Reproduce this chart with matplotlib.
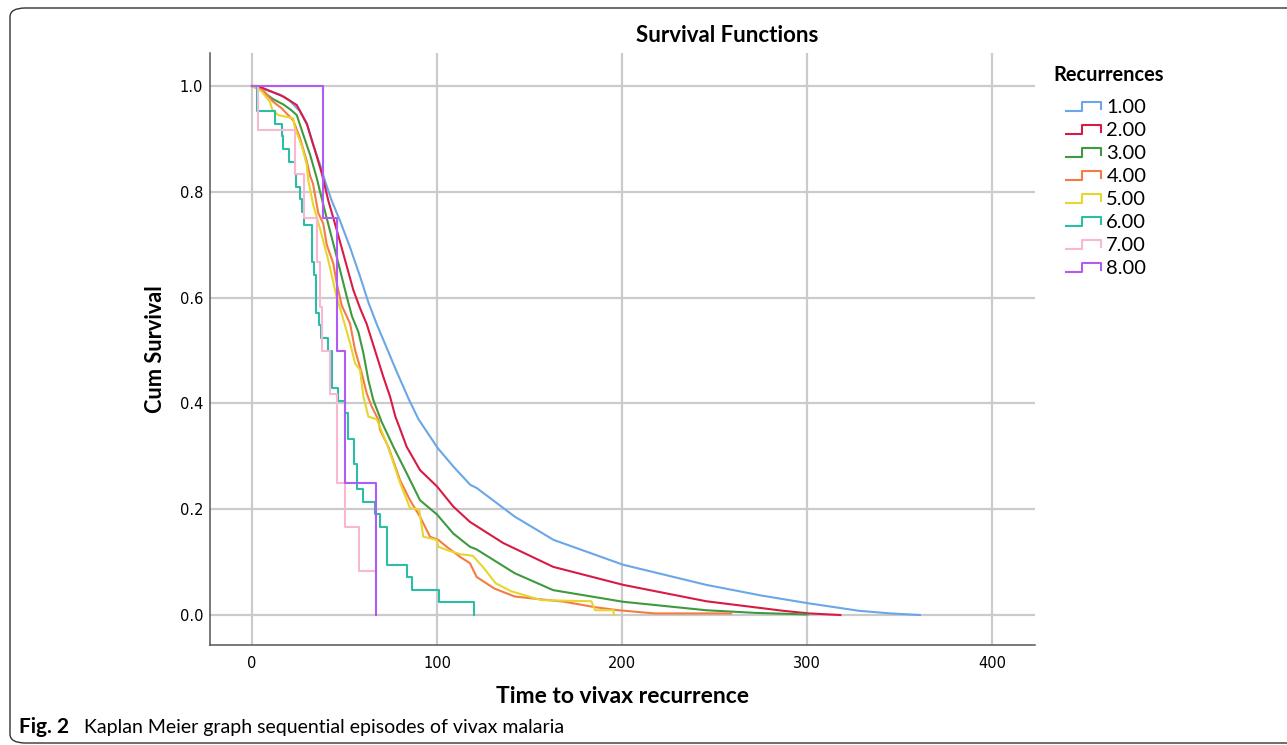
import matplotlib
matplotlib.use('Agg')
import matplotlib.pyplot as plt
from matplotlib.lines import Line2D
from matplotlib.legend_handler import HandlerBase
from matplotlib.patches import FancyBboxPatch

# ----- Kaplan-Meier curves (time in days, cumulative survival)
t1 = [0, 4, 15, 20.5, 26, 30, 33, 36.8, 39.5, 43, 47.6, 53, 58.4, 63, 67.4, 72.8, 78.2, 85, 90,
      100.5, 109, 118, 121.5, 142, 163, 200.6, 245.5, 275, 301, 328, 345, 361]
s1 = [1.0, .997, .984, .972, .952, .925, .889, .851, .82, .784, .745, .695, .64, .59, .55, .505, .46, .406, .37,
      .315, .28, .246, .24, .186, .142, .095, .057, .037, .022, .008, .003, 0.0]

t2 = [0, 6, 17, 24.2, 29.6, 34, 37.7, 41.2, 45.8, 50.3, 54.8, 58.4, 62, 66.5, 71, 74.6, 77.5, 80, 83.6,
      90.8, 100, 108.8, 117.8, 135.8, 162.8, 200.6, 245.5, 287, 301, 318]
s2 = [1.0, .996, .98, .964, .929, .879, .835, .784, .728, .671, .614, .58, .55, .50, .45, .413, .375, .352, .318,
      .274, .243, .205, .176, .136, .091, .057, .026, .008, .003, 0.0]

t3 = [0, 4.3, 11.5, 17, 21, 24.2, 27.7, 31.4, 35, 36.8, 40.4, 45.8, 51.2, 54, 57.5, 60.2, 62.9, 65.6, 70.1,
      76.4, 83.6, 90.8, 100, 108.8, 117.8, 121.4, 142, 162.8, 200.6, 245.5, 272, 300.3]
s3 = [1.0, .993, .975, .965, .955, .945, .908, .87, .826, .80, .75, .677, .602, .565, .535, .495, .444, .406, .365,
      .318, .268, .217, .19, .154, .129, .124, .079, .047, .025, .009, .004, .001]

t4 = [0, 6, 11.5, 16, 22.3, 25.9, 29.6, 31.4, 33, 35.8, 38.5, 40.4, 43.9, 45.8, 48.5, 53, 55.7, 59.3, 62,
      64.7, 68.3, 69.2, 73.7, 80, 85.4, 90.8, 96.2, 100.7, 105.2, 112.4, 117.8, 121.4, 131, 142, 155, 169,
      185, 198, 217.6, 259]
s4 = [1.0, .992, .97, .958, .935, .902, .858, .83, .815, .76, .74, .70, .665, .627, .585, .551, .501, .457, .419,
      .394, .369, .35, .318, .255, .217, .186, .148, .142, .129, .110, .098, .072, .05, .035, .03, .025,
      .015, .009, .003, .003]

t5 = [0, 5.2, 9.7, 11, 14.2, 22.3, 23.2, 26.9, 29.6, 30.4, 33.1, 36.8, 41.2, 45.8, 47.6, 49.4, 53, 55.7,
      58.4, 60.2, 62.9, 67.4, 72.8, 80, 85.4, 90.3, 92.6, 99.8, 100.7, 105.2, 112.4, 119.3, 125, 131.7,
      140, 156.5, 183.4, 185.5, 195.5, 195.5]
s5 = [1.0, .99, .97, .955, .945, .939, .921, .887, .851, .822, .775, .73, .671, .60, .58, .558, .514, .476,
      .463, .413, .375, .37, .325, .25, .202, .20, .148, .142, .129, .123, .115, .112, .09, .06,
      .045, .028, .026, .009, .009, 0.0]

t6 = [0, 2.5, 12.4, 16, 17, 20, 23, 24, 26, 27, 28, 32.3, 33.5, 34.6, 36, 37.5, 41, 43, 46.5, 50, 52,
      55, 57, 60, 66.5, 69, 73, 84, 86.5, 101, 120]
s6 = [1.0, .952, .929, .905, .881, .857, .833, .810, .786, .762, .738, .667, .643, .571, .548, .524, .500, .429,
      .405, .381, .333, .286, .238, .214, .190, .167, .095, .071, .048, .024, 0.0]

t7 = [0, 3.4, 23, 28, 35, 36.5, 37.7, 42.2, 45.8, 50.3, 58, 66.5]
s7 = [1.0, .917, .833, .75, .667, .583, .5, .417, .25, .167, .083, .083]

t8 = [0, 38.2, 45.8, 50.3, 66.8]
s8 = [1.0, .75, .5, .25, 0.0]

labels = ['1.00', '2.00', '3.00', '4.00', '5.00', '6.00', '7.00', '8.00']
colors = ['#6aa6e8', '#d81b45', '#3f9a3f', '#f47c44', '#e6d62e', '#2cbea4', '#f8b8d4', '#b05cf2']
xticks = [0, 100, 200, 300, 400]
yticks = [0.0, 0.2, 0.4, 0.6, 0.8, 1.0]

FONT = ['Lato', 'DejaVu Sans']


class StepHandler(HandlerBase):
    # little step glyph used in SPSS legends
    def create_artists(self, legend, orig_handle, xdescent, ydescent, width, height, fontsize, trans):
        xs = [0, .45, .45, 1, 1]
        ys = [.1, .1, .8, .8, .25]
        ln = Line2D([x * width - xdescent for x in xs], [y * height - ydescent for y in ys],
                    color=orig_handle.get_color(), lw=1.5)
        ln.set_transform(trans)
        return [ln]


fig = plt.figure(figsize=(12.87, 7.45), dpi=100)
W, H = 1287., 745.
ax = fig.add_axes([210 / W, 1 - 645 / H, 825 / W, 592 / H])

series = [(t1, s1), (t2, s2), (t3, s3), (t4, s4), (t5, s5), (t6, s6), (t7, s7), (t8, s8)]
handles = []
for i, (t, s) in enumerate(series):
    ds = 'steps-post' if i >= 5 else 'default'
    h, = ax.plot(t, s, color=colors[i], lw=1.5, drawstyle=ds, zorder=3 + i, label=labels[i])
    handles.append(h)

ax.set_xlim(-22.7, 423.2)
ax.set_ylim(-0.0567, 1.0624)
ax.set_xticks(xticks)
ax.set_yticks(yticks)
ax.set_xticklabels([str(x) for x in xticks], fontsize=10.5, family='DejaVu Sans')
ax.set_yticklabels(['%.1f' % y for y in yticks], fontsize=10.5, family='DejaVu Sans')
ax.tick_params(length=0)
ax.tick_params(axis='x', pad=8)
ax.tick_params(axis='y', pad=5)
ax.grid(True, color='#cbcbcb', lw=1.6, zorder=0)
ax.set_axisbelow(True)
for sp in ['top', 'right']:
    ax.spines[sp].set_visible(False)
for sp in ['left', 'bottom']:
    ax.spines[sp].set_color('#555555')
    ax.spines[sp].set_linewidth(1.1)

ax.set_xlabel('Time to vivax recurrence', fontsize=16.5, fontweight='bold', family=FONT, labelpad=10.5)
ax.set_ylabel('Cum Survival', fontsize=15.7, fontweight='bold', family=FONT, labelpad=10)

fig.text(727 / W, 1 - 35 / H, 'Survival Functions', ha='center', va='center',
         fontsize=16, fontweight='bold', family=FONT)
fig.text(1053 / W, 1 - 75 / H, 'Recurrences', ha='left', va='center',
         fontsize=14.4, fontweight='bold', family=FONT)

leg = fig.legend(handles=handles, labels=labels, loc='upper left',
                 bbox_to_anchor=(1066 / W, 1 - 99 / H), frameon=False,
                 handler_map={Line2D: StepHandler()}, prop={'family': FONT, 'size': 14.5},
                 handlelength=1.75, handleheight=0.6, handletextpad=0.25, labelspacing=0.30,
                 borderpad=0, borderaxespad=0)

# caption
fig.text(19 / W, 1 - 727 / H, 'Fig. 2', ha='left', va='center', fontsize=15,
         fontweight='bold', family=FONT)
fig.text(84 / W, 1 - 727 / H, 'Kaplan Meier graph sequential episodes of vivax malaria',
         ha='left', va='center', fontsize=14, family=FONT)

# rounded frame around the figure panel
frame = FancyBboxPatch((10 / W, 1 - 743 / H), 1300 / W, 735 / H,
                       boxstyle='round,pad=0,rounding_size=0.012', transform=fig.transFigure,
                       fill=False, ec='#333333', lw=1.0, clip_on=False)
fig.patches.append(frame)

plt.savefig('out.png', dpi=100)
plt.close('all')
